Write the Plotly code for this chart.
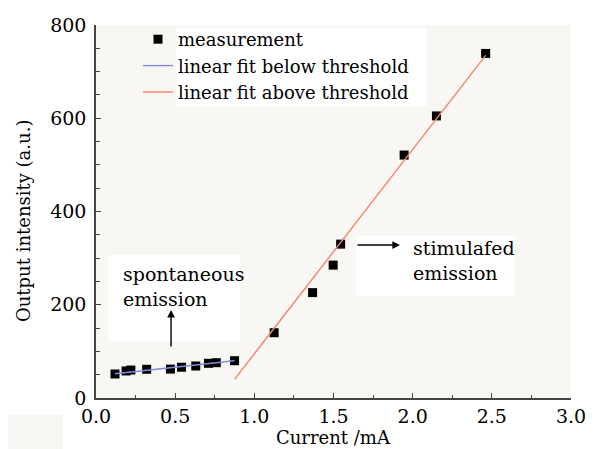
import plotly.graph_objects as go

# data
meas_x = [0.12, 0.19, 0.22, 0.32, 0.47, 0.54, 0.63, 0.71, 0.76, 0.875, 1.125,
          1.368, 1.498, 1.545, 1.946, 2.15, 2.461]
meas_y = [51.5, 58, 60, 61.6, 62, 66, 68.6, 74.4, 75.7, 80, 140,
          226, 285, 330, 521, 605, 739]
fit_below_x = [0.12, 0.875]
fit_below_y = [52, 80]
fit_above_x = [0.875, 2.461]
fit_above_y = [40, 735]

x_ticks = [0.0, 0.5, 1.0, 1.5, 2.0, 2.5, 3.0]
x_ticklabels = ["0.0", "0.5", "1.0", "1.5", "2.0", "2.5", "3.0"]
y_ticks = [0, 200, 400, 600, 800]

FONT = "DejaVu Serif"
FS = 19

fig = go.Figure()
fig.add_trace(go.Scatter(x=meas_x, y=meas_y, mode="markers", name="measurement",
                         marker=dict(symbol="square", size=9, color="black")))
fig.add_trace(go.Scatter(x=fit_below_x, y=fit_below_y, mode="lines",
                         name="linear fit below threshold",
                         line=dict(color="#7f8ee0", width=1.4)))
fig.add_trace(go.Scatter(x=fit_above_x, y=fit_above_y, mode="lines",
                         name="linear fit above threshold",
                         line=dict(color="#f4856a", width=1.4)))

def px_x(p):
    return (p - 96) / 475

def px_y(p):
    return (398 - p) / 373

shapes = [
    dict(type="rect", xref="paper", yref="paper", x0=px_x(176), x1=px_x(426),
         y0=px_y(106), y1=px_y(28), fillcolor="white", line=dict(width=0), layer="below"),
    dict(type="rect", xref="paper", yref="paper", x0=px_x(108), x1=px_x(240),
         y0=px_y(341), y1=px_y(255), fillcolor="white", line=dict(width=0), layer="below"),
    dict(type="rect", xref="paper", yref="paper", x0=px_x(356), x1=px_x(515),
         y0=px_y(296), y1=px_y(236), fillcolor="white", line=dict(width=0), layer="below"),
    dict(type="rect", xref="paper", yref="paper", x0=px_x(8), x1=px_x(63),
         y0=px_y(449), y1=px_y(415), fillcolor="#f8f7f4", line=dict(width=0), layer="below"),
]

annotations = [
    dict(text="spontaneous<br>emission", xref="paper", yref="paper",
         x=px_x(121), y=px_y(261), xanchor="left", yanchor="top",
         showarrow=False, align="left", font=dict(family=FONT, size=FS, color="black")),
    dict(text="stimulafed<br>emission", xref="paper", yref="paper",
         x=px_x(411), y=px_y(235), xanchor="left", yanchor="top",
         showarrow=False, align="left", font=dict(family=FONT, size=FS, color="black")),
    dict(text="", x=0.474, y=189, xref="x", yref="y", ax=0, ay=38,
         showarrow=True, arrowhead=2, arrowsize=1.1, arrowwidth=1.4, arrowcolor="black"),
    dict(text="", x=1.92, y=328, xref="x", yref="y", ax=-44, ay=0,
         showarrow=True, arrowhead=2, arrowsize=1.1, arrowwidth=1.4, arrowcolor="black"),
    dict(text="Current /mA", xref="paper", yref="paper", x=0.5, y=px_y(437),
         xanchor="center", yanchor="middle", showarrow=False,
         font=dict(family=FONT, size=18, color="black")),
    dict(text="Output intensity (a.u.)", xref="paper", yref="paper",
         x=px_x(23), y=px_y(221), xanchor="center", yanchor="middle",
         textangle=-90, showarrow=False,
         font=dict(family=FONT, size=18, color="black")),
]

fig.update_layout(
    width=595, height=449,
    margin=dict(l=96, r=24, t=25, b=51),
    paper_bgcolor="white",
    plot_bgcolor="#f8f7f4",
    font=dict(family=FONT, size=FS, color="black"),
    showlegend=True,
    legend=dict(x=px_x(138), y=px_y(21), xanchor="left", yanchor="top",
                bgcolor="rgba(0,0,0,0)", font=dict(family=FONT, size=18),
                tracegroupgap=0, itemwidth=30),
    shapes=shapes,
    annotations=annotations,
    xaxis=dict(range=[0, 3], tickvals=x_ticks, ticktext=x_ticklabels, automargin=False,
               showgrid=False, zeroline=False, showline=True, linecolor="#444", linewidth=1.5,
               ticks="inside", ticklen=5, tickcolor="#444", tickwidth=1.3,
               minor=dict(dtick=0.25, ticks="inside", ticklen=3, tickcolor="#444", tickwidth=1.2),
               ticklabelstandoff=0,
               tickfont=dict(family=FONT, size=FS)),
    yaxis=dict(range=[0, 800], tickvals=y_ticks, automargin=False,
               showgrid=False, zeroline=False, showline=True, linecolor="#444", linewidth=1.5,
               ticks="inside", ticklen=5, tickcolor="#444", tickwidth=1.3,
               minor=dict(dtick=50, ticks="inside", ticklen=4, tickcolor="#444", tickwidth=1.2),
               ticklabelstandoff=4,
               tickfont=dict(family=FONT, size=FS)),
)

fig.write_html("out.html")
